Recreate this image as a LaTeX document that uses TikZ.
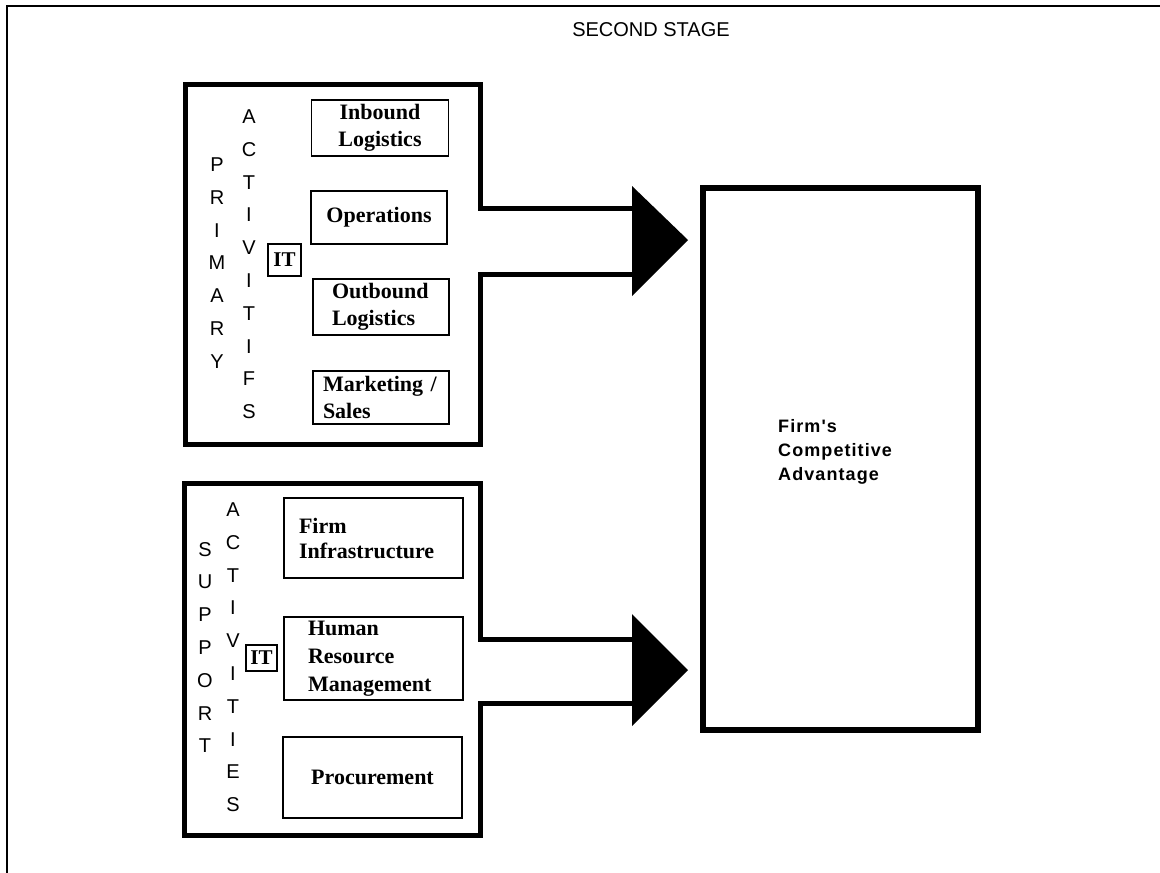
\documentclass[tikz,border=0pt]{standalone}
\usepackage{fontspec}
\setmainfont{Liberation Serif}
\newfontfamily\arialf{Liberation Sans}
\newfontfamily\arialwide[LetterSpace=6]{Liberation Sans}
\begin{document}
\begin{tikzpicture}[x=1pt,y=-1pt,
  innerbox/.style={draw, line width=1.5pt, inner ysep=0pt, font=\bfseries\fontsize{22}{27}\selectfont},
  itbox/.style={draw, line width=1.5pt, inner sep=0pt, font=\bfseries\fontsize{21}{21}\selectfont},
  heavy/.style={line width=5pt, line join=miter},
  vlet/.style={font=\arialf\fontsize{20}{32.8}\selectfont, align=center, inner sep=0pt, anchor=north},
  headfill/.style={fill=black},
]
\useasboundingbox (0,0) rectangle (1160,873);
% outer frame
\coordinate (fa) at (7,873);
\coordinate (fb) at (7,6);
\coordinate (fc) at (1160,6);
\draw[line width=1.5pt] (fa) -- (fb) -- (fc);
% title
\node[font=\arialf\fontsize{20}{20}\selectfont] (title) at (651,30) {SECOND STAGE};

% ---------- primary activities ----------
\coordinate (p1) at (632,208);
\coordinate (p2) at (480.5,208);
\coordinate (p3) at (480.5,84.5);
\coordinate (p4) at (185.5,84.5);
\coordinate (p5) at (185.5,444.5);
\coordinate (p6) at (480.5,444.5);
\coordinate (p7) at (480.5,274);
\coordinate (p8) at (632,274);
\draw[heavy] (p1) -- (p2) -- (p3) -- (p4) -- (p5) -- (p6) -- (p7) -- (p8);

\node[vlet] (primary) at (217,157.5) {P\\R\\I\\M\\A\\R\\Y};
\node[vlet] (pact) at (249,109.5) {A\\C\\T\\I\\V\\I\\T\\I\\F\\S};
\node[itbox, minimum width=33pt, minimum height=32pt] (it1) at (284.5,260) {IT};

\node[innerbox, minimum width=137pt, minimum height=56pt, inner xsep=0pt, align=center] (inb) at (380,128) {Inbound\\Logistics};
\node[innerbox, minimum width=136pt, minimum height=53pt, inner xsep=0pt, align=center] (ops) at (379,217.5) {Operations};
\node[innerbox, minimum height=56pt, inner xsep=19pt, text width=98pt, align=left] (outb) at (381,307) {Outbound\\Logistics};
\node[innerbox, minimum height=53pt, inner xsep=10pt, text width=116pt, align=left] (mkt) at (381,397.5) {Marketing /\\Sales};

% ---------- support activities ----------
\coordinate (s1) at (632,639);
\coordinate (s2) at (480.5,639);
\coordinate (s3) at (480.5,483.5);
\coordinate (s4) at (184.5,483.5);
\coordinate (s5) at (184.5,835.5);
\coordinate (s6) at (480.5,835.5);
\coordinate (s7) at (480.5,703);
\coordinate (s8) at (632,703);
\draw[heavy] (s1) -- (s2) -- (s3) -- (s4) -- (s5) -- (s6) -- (s7) -- (s8);

\node[vlet] (support) at (205,542) {S\\U\\P\\P\\O\\R\\T};
\node[vlet] (sact) at (233,502.5) {A\\C\\T\\I\\V\\I\\T\\I\\E\\S};
\node[itbox, minimum width=31pt, minimum height=26pt] (it2) at (261.5,658) {IT};

\node[innerbox, minimum height=80pt, inner xsep=15pt, text width=149pt, align=left, font=\bfseries\fontsize{22}{25}\selectfont] (firm) at (373.5,538) {Firm\\Infrastructure};
\node[innerbox, minimum height=83pt, inner xsep=24pt, text width=131pt, align=left, font=\bfseries\fontsize{22}{28}\selectfont] (hrm) at (373.5,658.5) {Human\\Resource\\Management};
\node[innerbox, minimum width=179pt, minimum height=81pt, inner xsep=0pt, align=center] (proc) at (372.5,777.5) {Procurement};

% ---------- competitive advantage ----------
\node[draw, line width=6pt, minimum width=275pt, minimum height=542pt, inner sep=0pt] (fca) at (840.5,459) {};
\node[font=\arialwide\bfseries\fontsize{18}{24}\selectfont, align=left, anchor=north west, inner sep=0pt] (fcatext) at (778,419) {Firm's\\Competitive\\Advantage};

% ---------- arrow heads ----------
\coordinate (h1a) at (632,186);
\coordinate (h1b) at (632,296);
\coordinate (h1t) at (688,240);
\fill[headfill] (h1a) -- (h1t) -- (h1b) -- cycle;
\coordinate (h2a) at (632,614);
\coordinate (h2b) at (632,726);
\coordinate (h2t) at (688,670);
\fill[headfill] (h2a) -- (h2t) -- (h2b) -- cycle;
\end{tikzpicture}
\end{document}
